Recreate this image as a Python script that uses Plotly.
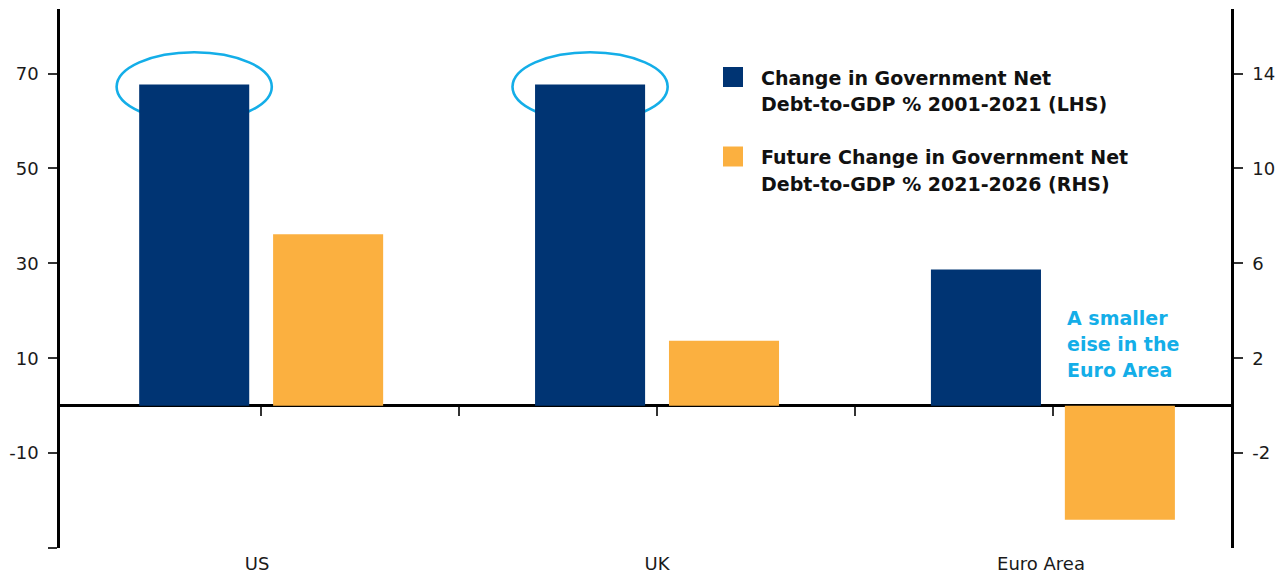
import plotly.graph_objects as go

# ---- data ----
regions = ["US", "UK", "Euro Area"]
change_2001_2021 = [67.7, 67.7, 28.7]      # LHS
future_2021_2026 = [7.22, 2.74, -4.81]     # RHS
left_ticks = [-30, -10, 10, 30, 50, 70]
left_ticktext = ["", "-10", "10", "30", "50", "70"]
right_ticks = [-2, 2, 6, 10, 14]
right_ticktext = ["-2", "2", "6", "10", "14"]
legend_lines_1 = ["Change in Government Net", "Debt-to-GDP % 2001-2021 (LHS)"]
legend_lines_2 = ["Future Change in Government Net", "Debt-to-GDP % 2021-2026 (RHS)"]
note_lines = ["A smaller", "eise in the", "Euro Area"]

BLUE = "#003473"
ORANGE = "#FBB040"
CYAN = "#14AEE8"
FONT = "DejaVu Sans, Verdana, sans-serif"

W, H = 1285, 578
ML, MR, MT, MB = 60, 54, 9, 30
PW, PH = W - ML - MR, H - MT - MB

xpos = list(range(len(regions)))
label_pos = [-0.01, 1.0, 1.97]
XR = [-0.508, 2.45]
YL = [-30, 83.6]
YR = [YL[0] / 5, YL[1] / 5]

bar_w = 0.278
fig = go.Figure()
fig.add_trace(go.Bar(x=xpos, y=change_2001_2021, width=bar_w, offset=-0.308,
                     marker=dict(color=BLUE, line=dict(width=0)),
                     name=" ".join(legend_lines_1), yaxis="y"))
fig.add_trace(go.Bar(x=xpos, y=future_2021_2026, width=bar_w, offset=0.0303,
                     marker=dict(color=ORANGE, line=dict(width=0)),
                     name=" ".join(legend_lines_2), yaxis="y2"))
# invisible trace to carry the tick-mark axis at zero
fig.add_trace(go.Scatter(x=[0], y=[0], xaxis="x2", yaxis="y", mode="markers",
                         marker=dict(opacity=0), hoverinfo="skip", showlegend=False))

zero_frac = (0 - YL[0]) / (YL[1] - YL[0])

def px2paper_x(px):
    return (px - ML) / PW

def px2paper_y(py):
    return (H - MB - py) / PH

shapes = []
for i in [0, 1]:
    cx = xpos[i] - 0.308 + bar_w / 2
    cy = change_2001_2021[i] - 0.5
    shapes.append(dict(type="circle", xref="x", yref="y", layer="below",
                       x0=cx - 0.196, x1=cx + 0.196, y0=cy - 7.3, y1=cy + 7.3,
                       line=dict(color=CYAN, width=2.6)))
for py0, col in [(67, BLUE), (146.5, ORANGE)]:
    shapes.append(dict(type="rect", xref="paper", yref="paper",
                       x0=px2paper_x(723), x1=px2paper_x(743),
                       y0=px2paper_y(py0 + 20), y1=px2paper_y(py0),
                       fillcolor=col, line=dict(width=0)))

annotations = []
for lines, ys in [(legend_lines_1, [77.5, 104]), (legend_lines_2, [157, 183.5])]:
    for t, y in zip(lines, ys):
        annotations.append(dict(text="<b>%s</b>" % t, xref="paper", yref="paper",
                                x=px2paper_x(759), y=px2paper_y(y), xanchor="left",
                                yanchor="middle", showarrow=False,
                                font=dict(family=FONT, size=19, color="#111111")))
for t, y in zip(note_lines, [317.5, 344, 370]):
    annotations.append(dict(text="<b>%s</b>" % t, xref="paper", yref="paper",
                            x=px2paper_x(1065), y=px2paper_y(y), xanchor="left",
                            yanchor="middle", showarrow=False,
                            font=dict(family=FONT, size=19, color=CYAN)))

fig.update_layout(
    width=W, height=H,
    margin=dict(l=ML, r=MR, t=MT, b=MB, pad=0, autoexpand=False),
    paper_bgcolor="white", plot_bgcolor="white",
    showlegend=False, barmode="overlay",
    font=dict(family=FONT, size=18, color="#1a1a1a"),
    xaxis=dict(range=XR, tickvals=label_pos, ticktext=regions, ticks="",
               showline=False, showgrid=False, zeroline=False, automargin=False,
               tickfont=dict(size=18), ticklabelstandoff=3),
    xaxis2=dict(range=XR, overlaying="x", anchor="free", position=zero_frac,
                tickvals=[0, 0.5, 1, 1.5, 2], ticks="outside", ticklen=9,
                tickwidth=2, tickcolor="#333333", showticklabels=False,
                showline=False, showgrid=False, zeroline=False, automargin=False),
    yaxis=dict(range=YL, tickvals=left_ticks, ticktext=left_ticktext,
               ticks="outside", ticklen=9, tickwidth=2, tickcolor="#333333",
               showline=True, linecolor="black", linewidth=2.5, showgrid=False,
               zeroline=True, zerolinecolor="black", zerolinewidth=2.5,
               ticklabelstandoff=6, automargin=False),
    yaxis2=dict(range=YR, tickvals=right_ticks, ticktext=right_ticktext,
                overlaying="y", side="right",
                ticks="outside", ticklen=9, tickwidth=2, tickcolor="#333333",
                showline=True, linecolor="black", linewidth=2.5, showgrid=False,
                zeroline=False, ticklabelstandoff=6, automargin=False),
    shapes=shapes, annotations=annotations,
)

fig.write_html("out.html")
